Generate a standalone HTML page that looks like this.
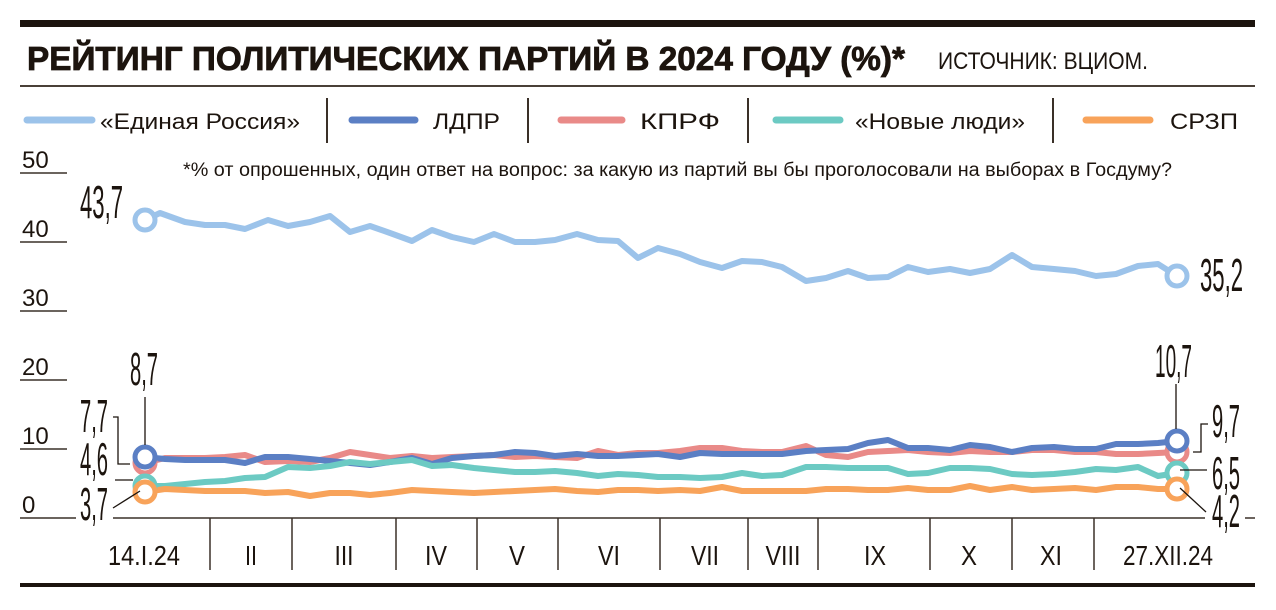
<!DOCTYPE html>
<html><head><meta charset="utf-8"><style>
html,body{margin:0;padding:0;background:#fff;}
svg{display:block;font-family:"Liberation Sans",sans-serif;}
</style></head><body>
<svg width="1276" height="610" viewBox="0 0 1276 610" xmlns="http://www.w3.org/2000/svg">
<rect x="20" y="20" width="1235" height="7" fill="#1c140e"/>
<text x="27" y="70" font-size="33" font-weight="bold" fill="#1c140e" stroke="#1c140e" stroke-width="0.8" textLength="878" lengthAdjust="spacingAndGlyphs">РЕЙТИНГ ПОЛИТИЧЕСКИХ ПАРТИЙ В 2024 ГОДУ (%)*</text>
<text x="938" y="69" font-size="24" fill="#1c140e" textLength="210" lengthAdjust="spacingAndGlyphs">ИСТОЧНИК: ВЦИОМ.</text>
<rect x="20" y="85" width="1235" height="2" fill="#4a4038"/>
<g stroke-linecap="round" stroke-width="7">
<line x1="27" y1="120" x2="92" y2="120" stroke="#9cc3ea"/>
<line x1="352" y1="120" x2="415" y2="120" stroke="#5b7fc4"/>
<line x1="561" y1="120" x2="622" y2="120" stroke="#e98a88"/>
<line x1="776" y1="120" x2="840" y2="120" stroke="#6ccac3"/>
<line x1="1086" y1="120" x2="1150" y2="120" stroke="#f8a35a"/>
</g>
<g stroke="#3a3028" stroke-width="2">
<line x1="327" y1="98" x2="327" y2="143"/><line x1="528" y1="98" x2="528" y2="143"/>
<line x1="748" y1="98" x2="748" y2="143"/><line x1="1053" y1="98" x2="1053" y2="143"/>
</g>
<g font-size="22" fill="#1c140e">
<text x="100" y="129" textLength="200" lengthAdjust="spacingAndGlyphs">«Единая Россия»</text>
<text x="433" y="129" textLength="67" lengthAdjust="spacingAndGlyphs">ЛДПР</text>
<text x="640" y="129" textLength="80" lengthAdjust="spacingAndGlyphs">КПРФ</text>
<text x="855" y="129" textLength="170" lengthAdjust="spacingAndGlyphs">«Новые люди»</text>
<text x="1170" y="129" textLength="68" lengthAdjust="spacingAndGlyphs">СРЗП</text>
</g>
<text x="183" y="176" font-size="19" fill="#1c140e" textLength="989" lengthAdjust="spacingAndGlyphs">*% от опрошенных, один ответ на вопрос: за какую из партий вы бы проголосовали на выборах в Госдуму?</text>
<g stroke="#3a3028" stroke-width="1.5">
<line x1="20" y1="173" x2="67" y2="173"/><line x1="20" y1="242" x2="67" y2="242"/>
<line x1="20" y1="311" x2="67" y2="311"/><line x1="20" y1="380" x2="67" y2="380"/>
<line x1="20" y1="449" x2="67" y2="449"/><line x1="20" y1="518" x2="76" y2="518"/>
<line x1="113" y1="518" x2="1205" y2="518"/><line x1="1245" y1="518" x2="1255" y2="518"/>
</g>
<g font-size="24" fill="#1c140e">
<text x="22" y="168">50</text><text x="22" y="237">40</text><text x="22" y="306">30</text>
<text x="22" y="375">20</text><text x="22" y="444">10</text><text x="22" y="513">0</text>
</g>
<g stroke="#3a3028" stroke-width="1.5">
<line x1="210" y1="518" x2="210" y2="570"/><line x1="292" y1="518" x2="292" y2="570"/>
<line x1="396" y1="518" x2="396" y2="570"/><line x1="477" y1="518" x2="477" y2="570"/>
<line x1="558" y1="518" x2="558" y2="570"/><line x1="660" y1="518" x2="660" y2="570"/>
<line x1="748" y1="518" x2="748" y2="570"/><line x1="818" y1="518" x2="818" y2="570"/>
<line x1="930" y1="518" x2="930" y2="570"/><line x1="1012" y1="518" x2="1012" y2="570"/>
<line x1="1094" y1="518" x2="1094" y2="570"/>
</g>
<g font-size="28" fill="#1c140e" text-anchor="middle">
<text x="144" y="565" textLength="72" lengthAdjust="spacingAndGlyphs">14.I.24</text>
<text x="251" y="565" textLength="12" lengthAdjust="spacingAndGlyphs">II</text>
<text x="344" y="565" textLength="19" lengthAdjust="spacingAndGlyphs">III</text>
<text x="436" y="565" textLength="22" lengthAdjust="spacingAndGlyphs">IV</text>
<text x="517" y="565" textLength="16" lengthAdjust="spacingAndGlyphs">V</text>
<text x="609" y="565" textLength="22" lengthAdjust="spacingAndGlyphs">VI</text>
<text x="705" y="565" textLength="28" lengthAdjust="spacingAndGlyphs">VII</text>
<text x="783" y="565" textLength="35" lengthAdjust="spacingAndGlyphs">VIII</text>
<text x="875" y="565" textLength="22" lengthAdjust="spacingAndGlyphs">IX</text>
<text x="969" y="565" textLength="16" lengthAdjust="spacingAndGlyphs">X</text>
<text x="1051" y="565" textLength="22" lengthAdjust="spacingAndGlyphs">XI</text>
<text x="1168" y="565" textLength="90" lengthAdjust="spacingAndGlyphs">27.XII.24</text>
</g>
<g fill="none" stroke-width="6" stroke-linejoin="round">
<polyline stroke="#9cc3ea" points="145,220 160,213 185,222 205,225 225,225 245,229 268,220 288,226 310,222 330,216 350,232 370,226 390,233 412,241 432,230 452,237 474,242 494,234 515,242 535,242 555,240 577,234 598,240 618,241 638,258 658,248 680,254 700,262 722,268 742,261 762,262 782,267 806,281 826,278 848,271 868,278 888,277 908,267 928,272 950,269 970,273 990,269 1012,255 1032,267 1054,269 1075,271 1096,276 1116,274 1138,266 1158,264 1177,276"/>
<polyline stroke="#e98a88" points="145,463 165,458 185,458 205,458 225,457 245,455 265,462 288,461 310,462 330,458 350,452 370,455 390,458 412,456 432,458 452,457 474,456 494,455 515,457 535,456 555,457 577,458 598,451 618,455 638,453 658,453 680,451 700,448 722,448 742,451 762,452 782,452 806,446 826,455 848,457 868,452 888,451 908,450 928,452 950,453 970,451 990,452 1012,452 1032,450 1054,450 1075,452 1096,452 1116,454 1138,454 1158,453 1177,452"/>
<polyline stroke="#5b7fc4" points="145,457 165,459 185,460 205,460 225,460 245,463 265,457 288,457 310,459 330,461 350,463 370,465 390,462 412,458 432,464 452,458 474,456 494,455 515,452 535,453 555,456 577,454 598,456 618,456 638,455 658,454 680,457 700,453 722,454 742,454 762,454 782,454 806,451 826,450 848,449 868,443 888,440 908,448 928,448 950,450 970,445 990,447 1012,452 1032,448 1054,447 1075,449 1096,449 1116,444 1138,444 1158,443 1177,441"/>
<polyline stroke="#6ccac3" points="145,486 165,486 185,484 205,482 225,481 245,478 265,477 288,467 310,468 330,466 350,462 370,464 390,462 412,460 432,466 452,465 474,468 494,470 515,472 535,472 555,471 577,473 598,476 618,474 638,475 658,477 680,477 700,478 722,477 742,473 762,476 782,475 806,467 826,467 848,468 868,468 888,468 908,474 928,473 950,468 970,468 990,469 1012,474 1032,475 1054,474 1075,472 1096,469 1116,470 1138,467 1158,476 1177,473"/>
<polyline stroke="#f8a35a" points="145,492 165,489 185,490 205,491 225,491 245,491 265,493 288,492 310,496 330,493 350,493 370,495 390,493 412,490 432,491 452,492 474,493 494,492 515,491 535,490 555,489 577,491 598,492 618,490 638,490 658,491 680,490 700,491 722,487 742,491 762,491 782,491 806,491 826,489 848,489 868,490 888,490 908,488 928,490 950,490 970,486 990,490 1012,487 1032,490 1054,489 1075,488 1096,490 1116,487 1138,487 1158,489 1177,489"/>
</g>
<g fill="#fff" stroke-width="5">
<circle cx="145" cy="220" r="10" stroke="#9cc3ea"/>
<circle cx="1177" cy="276" r="10" stroke="#9cc3ea"/>
<circle cx="145" cy="463" r="10" stroke="#e98a88"/>
<circle cx="145" cy="486" r="10" stroke="#6ccac3"/>
<circle cx="145" cy="457" r="10" stroke="#5b7fc4"/>
<circle cx="145" cy="492" r="10" stroke="#f8a35a"/>
<circle cx="1177" cy="452" r="10" stroke="#e98a88"/>
<circle cx="1177" cy="473" r="10" stroke="#6ccac3"/>
<circle cx="1177" cy="441" r="10" stroke="#5b7fc4"/>
<circle cx="1177" cy="489" r="10" stroke="#f8a35a"/>
</g>
<g stroke="#1c140e" stroke-width="1.3" fill="none">
<line x1="145" y1="397" x2="145" y2="445"/>
<polyline points="113,417 118,417 118,464 130,464"/>
<line x1="115" y1="480" x2="133" y2="480"/>
<line x1="113" y1="508" x2="140" y2="491"/>
<line x1="1176" y1="384" x2="1176" y2="429"/>
<polyline points="1208,424 1201,424 1201,452 1193,452"/>
<line x1="1180" y1="470" x2="1207" y2="470"/>
<line x1="1180" y1="488" x2="1206" y2="512"/>
</g>
<g font-size="46" fill="#1c140e">
<text x="80" y="218" textLength="43" lengthAdjust="spacingAndGlyphs">43,7</text>
<text x="130" y="385" textLength="28" lengthAdjust="spacingAndGlyphs">8,7</text>
<text x="80" y="432" textLength="28" lengthAdjust="spacingAndGlyphs">7,7</text>
<text x="80" y="475" textLength="28" lengthAdjust="spacingAndGlyphs">4,6</text>
<text x="80" y="520" textLength="28" lengthAdjust="spacingAndGlyphs">3,7</text>
<text x="1200" y="291" textLength="43" lengthAdjust="spacingAndGlyphs">35,2</text>
<text x="1155" y="377" textLength="37" lengthAdjust="spacingAndGlyphs">10,7</text>
<text x="1212" y="437" textLength="28" lengthAdjust="spacingAndGlyphs">9,7</text>
<text x="1212" y="489" textLength="28" lengthAdjust="spacingAndGlyphs">6,5</text>
<text x="1212" y="527" textLength="28" lengthAdjust="spacingAndGlyphs">4,2</text>
</g>
<rect x="20" y="583" width="1235" height="4" fill="#1c140e"/>
</svg>
</body></html>
